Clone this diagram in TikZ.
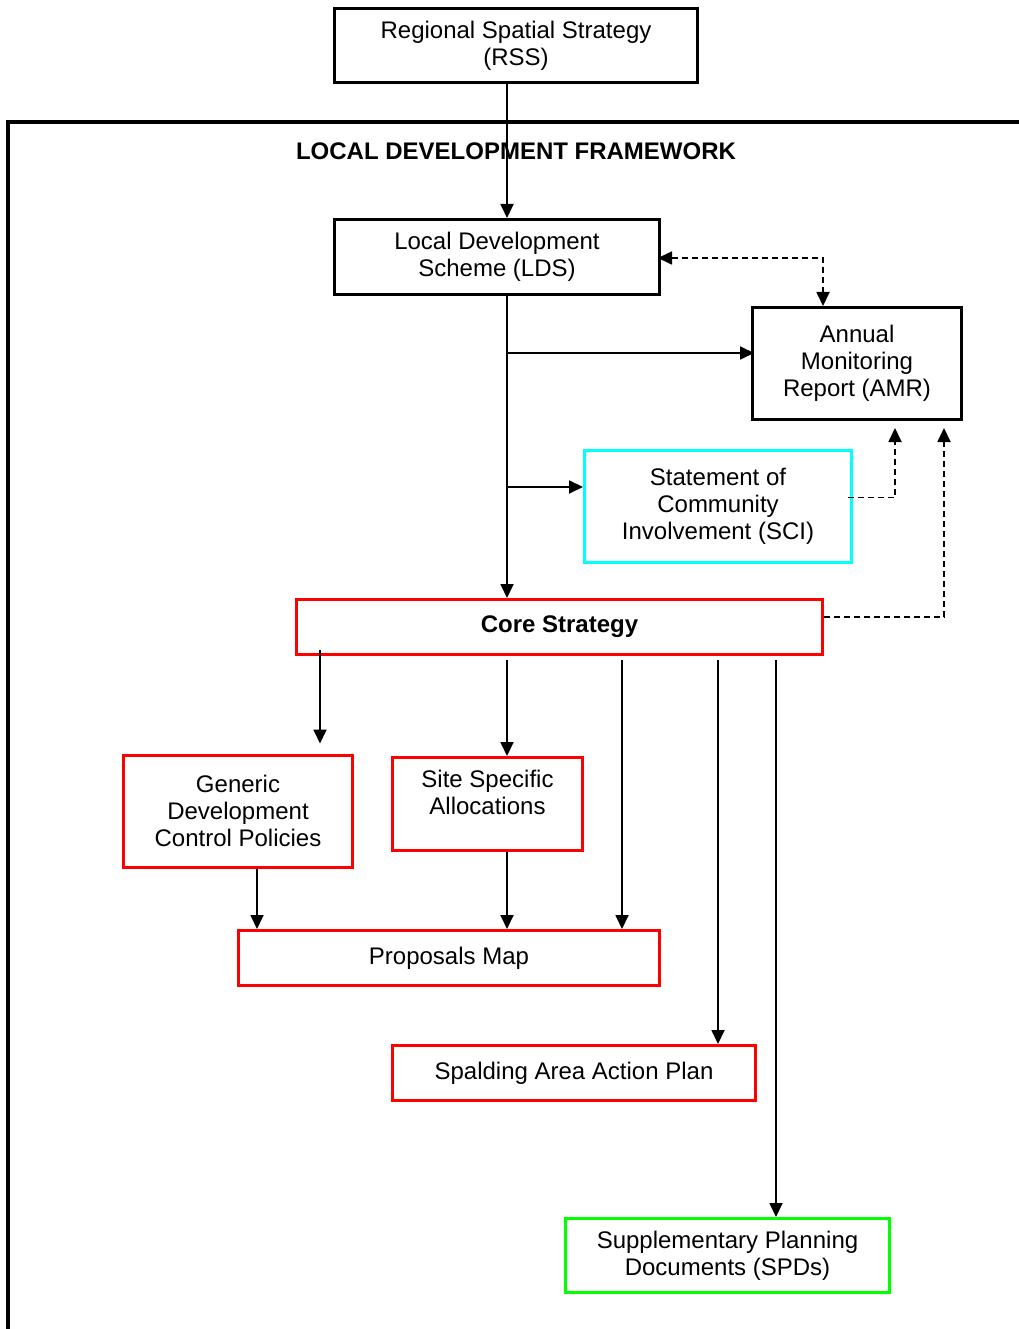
\documentclass[tikz,border=0pt]{standalone}
\usepackage{fontspec}
\setmainfont{Liberation Sans}
\usetikzlibrary{arrows.meta,calc}
\definecolor{sciblue}{RGB}{0,255,255}
\definecolor{ldfred}{RGB}{255,0,0}
\definecolor{spdgreen}{RGB}{0,255,0}
\tikzset{
  docbox/.style={draw,rectangle,align=center,inner sep=0pt,font=\fontsize{24}{27}\selectfont},
  blkbox/.style={docbox,line width=3pt},
  redbox/.style={docbox,draw=ldfred,line width=3pt},
  flow/.style={line width=1.8pt},
  feedback/.style={line width=1.8pt,dash pattern=on 6pt off 4pt}
}
\begin{document}
\begin{tikzpicture}[x=1pt,y=-1pt,>={Triangle[length=14pt,width=13pt]}]
			\useasboundingbox (0,0) rectangle (1018,1329);
			% frame of the LDF
			\draw[line width=4pt] (8,1340)--(8,122)--(1030,122);
			\node (ldf) at (516,151) {\fontsize{24}{27}\selectfont\bfseries LOCAL DEVELOPMENT FRAMEWORK};
			% documents
			\node[blkbox,minimum width=363,minimum height=74] (rss) at (516,45.5) {Regional Spatial Strategy\\(RSS)};
			\node[blkbox,minimum width=325,minimum height=75] (lds) at (497,257) {Local Development\\Scheme (LDS)};
			\node[blkbox,minimum width=209,minimum height=112] (amr) at (857,363.5) {Annual\\Monitoring\\Report (AMR)};
			\node[docbox,draw=sciblue,line width=3pt,minimum width=267,minimum height=112] (sci) at (718,506.5) {Statement of\\Community\\Involvement (SCI)};
			\node[redbox,minimum width=526,minimum height=55] (core) at (559.5,627) {\bfseries Core Strategy};
			\node[redbox,minimum width=229,minimum height=112] (gdc) at (238,811) {Generic\\Development\\Control Policies};
			\node[redbox,minimum width=190,minimum height=93] (ssa) at (487.5,804) {};
			\node[docbox,draw=none,anchor=north] (ssatext) at ($(ssa.north)+(0,14)$) {Site Specific\\Allocations};
			\node[redbox,minimum width=421,minimum height=55] (pmap) at (449,958) {Proposals Map};
			\node[redbox,minimum width=363,minimum height=55] (saap) at (574,1073) {Spalding Area Action Plan};
			\node[docbox,draw=spdgreen,line width=3pt,minimum width=324,minimum height=74] (spd) at (727.5,1255.5) {Supplementary Planning\\Documents (SPDs)};
			% connectors
			\coordinate (spine) at (507,0);
			\coordinate (b1) at (507,353);
			\coordinate (b2) at (507,487);
			\draw[flow,->] (rss.south -| spine)--(lds.north -| spine);
			\draw[flow,->] (lds.south -| spine)--(core.north -| spine);
			\draw[flow,->] (b1)--($(b1 -| amr.west)+(3,0)$);
			\draw[flow,->] (b2)--(b2 -| sci.west);
			\draw[feedback,<->] ($(lds.east)+(-3,1)$) -| ($(amr.north west)+(72,0)$);
			\draw[feedback,->] ($(sci.east)+(-5,-9)$) -| ($(amr.south west)+(144,7)$);
			\draw[feedback,->] ($(core.east)+(0,-10)$) -| ($(amr.south east)+(-19,7)$);
			\coordinate (c1) at (320,0);
			\draw[flow,->] ($(core.south -| c1)+(0,-6)$)--($(gdc.north -| c1)+(0,-10)$);
			\foreach \xx/\dst in {507/ssa,622/pmap,718/saap,776/spd}{
				\coordinate (col) at (\xx,0);
				\draw[flow,->] ($(core.south -| col)+(0,4)$)--(\dst.north -| col);
			}
			\coordinate (c2) at (257,0);
			\draw[flow,->] (gdc.south -| c2)--(pmap.north -| c2);
			\draw[flow,->] (ssa.south -| spine)--(pmap.north -| spine);
		\end{tikzpicture}
\end{document}
